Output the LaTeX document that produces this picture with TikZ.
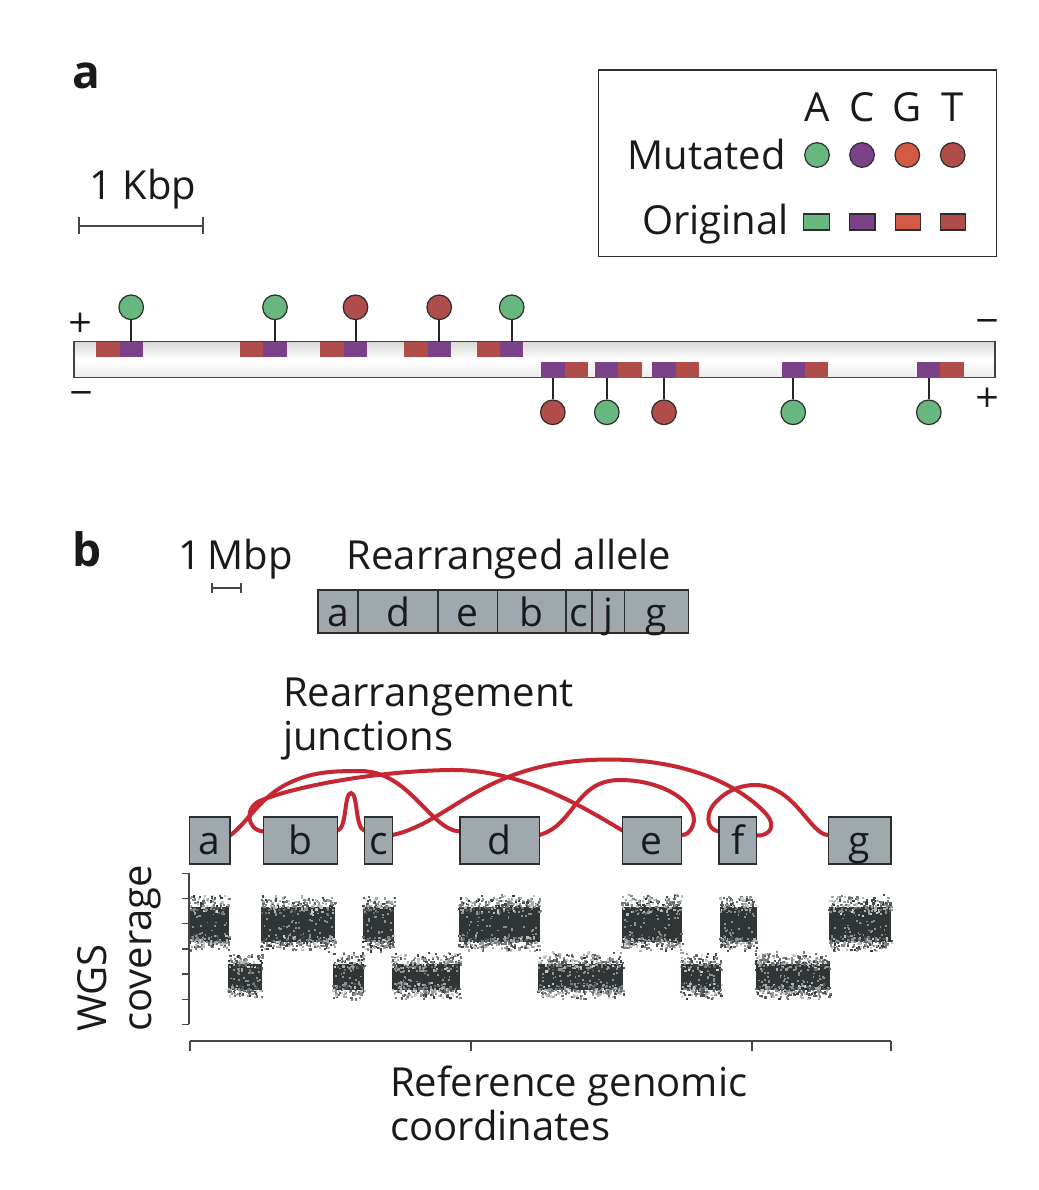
\documentclass[tikz,border=0pt]{standalone}
\usepackage{fontspec}
\setmainfont{Open Sans}
\newfontfamily\signfont{DejaVu Sans}
\definecolor{cA}{RGB}{104,183,126}
\definecolor{cC}{RGB}{123,66,135}
\definecolor{cG}{RGB}{211,91,69}
\definecolor{cT}{RGB}{176,76,74}
\definecolor{boxgray}{RGB}{158,168,173}
\definecolor{arcred}{RGB}{197,40,50}
\definecolor{cov}{RGB}{48,54,54}
\definecolor{edge}{RGB}{45,45,45}
\definecolor{ink}{RGB}{26,26,26}
\definecolor{axisc}{RGB}{70,70,70}
\newcommand{\covband}[4]{%
  \fill[cov] (#1,#3+6) rectangle (#2,#4-5);
  \pgfmathtruncatemacro{\cvn}{2.4*(#2-#1)}
  \foreach \k in {1,...,\cvn}{
    \pgfmathsetmacro{\cvx}{#1-1+rnd*(#2-#1+1)}
    \pgfmathsetmacro{\cvy}{#3+3+(rnd+rnd-1)*11}
    \pgfmathtruncatemacro{\cvs}{20+rnd*80}
    \fill[cov!\cvs!white] (\cvx,\cvy) rectangle ++(2.2,2.2);
    \pgfmathsetmacro{\cvx}{#1-1+rnd*(#2-#1+1)}
    \pgfmathsetmacro{\cvy}{#4-5+(rnd+rnd-1)*9}
    \pgfmathtruncatemacro{\cvs}{25+rnd*75}
    \fill[cov!\cvs!white] (\cvx,\cvy) rectangle ++(2.2,2.2);
  }
  \pgfmathtruncatemacro{\cvm}{0.6*(#2-#1)}
  \foreach \k in {1,...,\cvm}{
    \pgfmathsetmacro{\cvx}{#1+2+rnd*(#2-#1-5)}
    \pgfmathsetmacro{\cvy}{#3+8+rnd*(#4-#3-16)}
    \fill[cov!55!white] (\cvx,\cvy) rectangle ++(1.8,1.8);
  }
}
\begin{document}
\begin{tikzpicture}[x=1pt,y=-1pt,
  txt/.style={font=\fontsize{40}{46}\selectfont, text=ink, inner sep=0pt},
  panel/.style={font=\fontsize{46}{46}\selectfont\bfseries, text=ink, inner sep=0pt},
  sign/.style={font=\signfont\fontsize{31}{31}\selectfont, text=ink, inner sep=0pt},
  sq/.style={minimum width=23.4pt, minimum height=15.6pt, inner sep=0pt, outer sep=0pt},
  legsq/.style={draw=edge, line width=1.1pt, minimum width=25.5pt, minimum height=16pt, inner sep=0pt},
  mut/.style={circle, draw=edge, line width=1.2pt, minimum size=24.6pt, inner sep=0pt},
  stem/.style={draw=black!85, line width=2pt},
  scalebar/.style={draw=axisc, line width=1.4pt},
  seg/.style={draw=edge, line width=1.4pt, fill=boxgray, inner xsep=0pt, inner ysep=0pt,
    minimum height=47pt, text height=27pt, text depth=0pt,
    font=\fontsize{39}{44}\selectfont, text=ink},
  alseg/.style={seg, minimum height=43pt, text height=29pt},
  junction/.style={draw=arcred, line width=4pt, line cap=round},
  axisline/.style={draw=axisc, line width=1.4pt}
]
\useasboundingbox[fill=white] (0,0) rectangle (1038,1190);
\pgfmathsetseed{11}

% ---------------- panel a ----------------
\node[panel, anchor=base west] (pa) at (72,89) {a};
\node[txt, anchor=base west] (kbp) at (89,200) {1 Kbp};
\coordinate (kb1) at (79,226);
\coordinate (kb2) at (203,226);
\draw[scalebar] (kb1) -- (kb2);
\draw[scalebar] ([yshift=8.5pt]kb1) -- ([yshift=-8.5pt]kb1);
\draw[scalebar] ([yshift=8.5pt]kb2) -- ([yshift=-8.5pt]kb2);

% legend
\node[draw=edge, line width=1.3pt, minimum width=398.4pt, minimum height=186.7pt, inner sep=0pt] (legend) at (797.5,163.3) {};
\node[txt, anchor=base] (lA) at (817,121.5) {A};
\node[txt, anchor=base] (lC) at (862,121.5) {C};
\node[txt, anchor=base] (lG) at (907,121.5) {G};
\node[txt, anchor=base] (lT) at (952.5,121.5) {T};
\node[txt, anchor=base east] (lmut) at (786,169.5) {Mutated};
\node[txt, anchor=base east] (lorig) at (789,235) {Original};
\node[mut, fill=cA] (mA) at (817,155) {};
\node[mut, fill=cC] (mC) at (862,155) {};
\node[mut, fill=cG] (mG) at (907.3,155) {};
\node[mut, fill=cT] (mT) at (952.7,155) {};
\node[legsq, fill=cA] (oA) at (816.3,222) {};
\node[legsq, fill=cC] (oC) at (862.2,222) {};
\node[legsq, fill=cG] (oG) at (907.8,222) {};
\node[legsq, fill=cT] (oT) at (952.8,222) {};

% chromosome bar
\node[draw=edge!90, line width=1.3pt, top color=black!15, bottom color=black!8, middle color=white,
  minimum width=921pt, minimum height=36pt, inner sep=0pt] (chrom) at (534.5,359.7) {};
\node[sign] (pl1) at (80.5,323) {+};
\node[sign] (mi1) at (81.5,397) {−};
\node[sign] (mi2) at (987,325) {−};
\node[sign] (pl2) at (987,397.5) {+};

% top strand pairs
\foreach \i/\rx/\px/\mc in {1/107.8/131.2/cA, 2/251.7/275/cA, 3/332.1/355.5/cT, 4/415.8/439.2/cT, 5/488.3/511.7/cA}{
  \node[sq, fill=cT] (tr\i) at (\rx,349.5) {};
  \node[sq, fill=cC] (tp\i) at (\px,349.5) {};
  \node[mut, fill=\mc] (tm\i) at (\px,307.3) {};
  \draw[stem] (tm\i.south) -- (tp\i.north);
}
% bottom strand pairs
\foreach \i/\px/\rx/\mc in {1/552.8/576.2/cT, 2/606.8/629.8/cA, 3/664/687.2/cT, 4/793.2/816.2/cA, 5/928.8/952/cA}{
  \node[sq, fill=cC] (bp\i) at (\px,370) {};
  \node[sq, fill=cT] (br\i) at (\rx,370) {};
  \node[mut, fill=\mc] (bm\i) at (\px,412.3) {};
  \draw[stem] (bp\i.south) -- (bm\i.north);
}

% ---------------- panel b ----------------
\node[panel, anchor=base west] (pb) at (72,566) {b};
\node[txt, anchor=base west] (mbp) at (178,569) {1\,Mbp};
\coordinate (mb1) at (212,588);
\coordinate (mb2) at (241,588);
\draw[scalebar] (mb1) -- (mb2);
\draw[scalebar] ([yshift=5pt]mb1) -- ([yshift=-5pt]mb1);
\draw[scalebar] ([yshift=5pt]mb2) -- ([yshift=-5pt]mb2);
\node[txt, anchor=base] (rall) at (509,569) {Rearranged allele};

% rearranged allele
\node[alseg, minimum width=40pt]   (xa) at (338,611.5) {a};
\node[alseg, minimum width=80pt]   (xd) at (398,611.5) {d};
\node[alseg, minimum width=59.5pt] (xe) at (467.75,611.5) {e};
\node[alseg, minimum width=68.5pt] (xb) at (531.75,611.5) {b};
\node[alseg, minimum width=26pt]   (xc) at (579,611.5) {c};
\node[alseg, minimum width=32.5pt] (xj) at (608.25,611.5) {j};
\node[alseg, minimum width=64pt]   (xg) at (656.5,611.5) {g};

\node[txt, anchor=base west] (rj1) at (283,706.5) {Rearrangement};
\node[txt, anchor=base west] (rj2) at (283,750) {junctions};

% reference segments
\coordinate (ra) at (209.65,840.5);
\coordinate (rb) at (300.5,840.5);
\coordinate (rc) at (378.5,840.5);
\coordinate (rd) at (499.65,840.5);
\coordinate (re) at (651.85,840.5);
\coordinate (rf) at (737.85,840.5);
\coordinate (rg) at (859.6,840.5);

% junction ends
\coordinate (aR) at (230,835.5);
\coordinate (bL) at (263.3,831.5);
\coordinate (bR) at (337.7,830.5);
\coordinate (cL) at (364.3,830.5);
\coordinate (cR) at (392.7,835);
\coordinate (dL) at (460,831.5);
\coordinate (dR) at (539.3,835);
\coordinate (eL) at (622.4,830.5);
\coordinate (eR) at (681.3,835);
\coordinate (fL) at (719,831.5);
\coordinate (fR) at (756.7,835.5);
\coordinate (gL) at (828.2,835);

\draw[junction] (aR) .. controls (248,822) and (258,800) .. (285,785)
  .. controls (310,772) and (330,771) .. (360,771)
  .. controls (410,771) and (430,830) .. (dL);
\draw[junction] (bL) .. controls (246,830) and (244,806) .. (262,800)
  .. controls (300,785) and (380,771) .. (450,770)
  .. controls (520,769) and (580,805) .. (eL);
\draw[junction] (bR) .. controls (347,828) and (344,793) .. (351,793)
  .. controls (358,793) and (355,828) .. (cL);
\draw[junction] (cR) .. controls (450,822) and (480,766) .. (590,760)
  .. controls (690,755) and (745,790) .. (767,815)
  .. controls (776,826) and (770,836) .. (fR);
\draw[junction] (dR) .. controls (575,825) and (575,780) .. (620,780)
  .. controls (665,780) and (700,805) .. (693,825)
  .. controls (690,833) and (686,835) .. (eR);
\draw[junction] (fL) .. controls (706,830) and (704,812) .. (718,800)
  .. controls (730,788) and (745,785) .. (755,785)
  .. controls (795,785) and (810,835) .. (gL);

\node[seg, minimum width=40.7pt] (sa) at (ra) {a};
\node[seg, minimum width=74.4pt] (sb) at (rb) {b};
\node[seg, minimum width=28.4pt] (sc) at (rc) {c};
\node[seg, minimum width=79.3pt] (sd) at (rd) {d};
\node[seg, minimum width=58.9pt] (se) at (re) {e};
\node[seg, minimum width=37.7pt] (sf) at (rf) {f};
\node[seg, minimum width=62.8pt] (sg) at (rg) {g};

% coverage bands
\covband{190}{229}{901}{947}
\covband{261}{335}{901}{947}
\covband{363}{394}{901}{947}
\covband{459}{540}{901}{947}
\covband{622}{682}{901}{947}
\covband{720}{757}{901}{947}
\covband{829}{891}{901}{947}
\covband{228}{262}{958}{995}
\covband{333}{364}{958}{995}
\covband{392}{460}{958}{995}
\covband{538}{623}{958}{995}
\covband{681}{721}{958}{995}
\covband{756}{830}{958}{995}

% axes
\coordinate (yax1) at (189,873.3);
\coordinate (yax2) at (189,1024.3);
\draw[axisline] (yax1) -- (yax2);
\foreach \t in {873.3,898.5,923.7,948.8,974,999.2,1024.3}
  \draw[axisline] (189,\t) -- (181.5,\t);
\coordinate (xax1) at (190,1041);
\coordinate (xax2) at (891,1041);
\draw[axisline] (xax1) -- (xax2);
\foreach \t in {190,471,752,891}
  \draw[axisline] (\t,1041) -- (\t,1051);

\node[txt, rotate=90, anchor=base west] (wgs) at (106,1032) {WGS};
\node[txt, rotate=90, anchor=base west] (covl) at (151,1032) {coverage};
\node[txt, anchor=base west] (ref1) at (390,1096) {Reference genomic};
\node[txt, anchor=base west] (ref2) at (390,1140) {coordinates};
\end{tikzpicture}
\end{document}
